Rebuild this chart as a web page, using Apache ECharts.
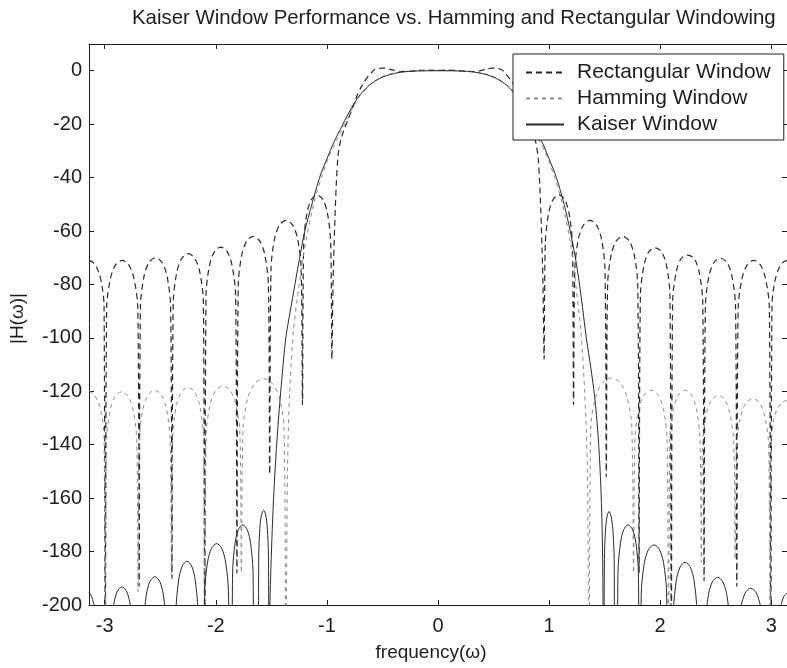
<!DOCTYPE html>
<html>
<head>
<meta charset="utf-8">
<script src="https://cdn.jsdelivr.net/npm/echarts@6/dist/echarts.min.js"></script>
<style>
  html, body { margin: 0; padding: 0; background: #fdfdfd; }
  #chart { width: 787px; height: 668px; }
</style>
</head>
<body>
<div id="chart"></div>
<script>
// Magnitude responses (dB) of the three windowed FIR low-pass designs.
// Values below -200 dB are nulls that fall off the bottom of the plot.

const xTicks = [-3, -2, -1, 0, 1, 2, 3];
const yTicks = [-200, -180, -160, -140, -120, -100, -80, -60, -40, -20, 0];

const rectFreq = [
  -3.1416, -3.100, -3.055, -3.025, -3.006, -2.995,
  -2.983, -2.949, -2.904, -2.843, -2.782, -2.736, -2.702, -2.690,
  -2.678, -2.646, -2.602, -2.543, -2.484, -2.439, -2.407, -2.395,
  -2.383, -2.351, -2.307, -2.248, -2.189, -2.144, -2.112, -2.100,
  -2.088, -2.057, -2.013, -1.955, -1.897, -1.854, -1.822, -1.810,
  -1.798, -1.766, -1.722, -1.663, -1.604, -1.559, -1.527, -1.515,
  -1.503, -1.471, -1.427, -1.368, -1.309, -1.264, -1.232, -1.220,
  -1.209, -1.180, -1.141, -1.088, -1.035, -0.995, -0.966, -0.955,
  -0.945, -0.930, -0.915, -0.900, -0.876, -0.845, -0.814, -0.770, -0.725, -0.680,
  -0.636, -0.600, -0.577, -0.530, -0.488, -0.440, -0.400, -0.330, -0.250, -0.170, -0.080,
  0,
  0.080, 0.170, 0.250, 0.330, 0.400, 0.440, 0.488, 0.530, 0.577, 0.600, 0.636,
  0.680, 0.725, 0.770, 0.814, 0.845, 0.876, 0.900, 0.915, 0.930, 0.945,
  0.955, 0.966, 0.995, 1.035, 1.088, 1.141, 1.180, 1.209,
  1.220, 1.232, 1.264, 1.309, 1.368, 1.427, 1.471, 1.503,
  1.515, 1.527, 1.559, 1.604, 1.663, 1.722, 1.766, 1.798,
  1.810, 1.822, 1.854, 1.897, 1.955, 2.013, 2.057, 2.088,
  2.100, 2.112, 2.144, 2.189, 2.248, 2.307, 2.351, 2.383,
  2.395, 2.407, 2.439, 2.484, 2.543, 2.602, 2.646, 2.678,
  2.690, 2.702, 2.736, 2.782, 2.843, 2.904, 2.949, 2.983,
  2.995, 3.006, 3.025, 3.055, 3.100, 3.1416
];
const rectMag = [
  -71, -71.9, -75.3, -80.4, -88, -240,
  -89, -77.9, -72.8, -71, -72.8, -77.9, -89, -193,
  -88, -76.9, -71.8, -70, -71.8, -76.9, -88, -190,
  -86.5, -75.4, -70.3, -68.5, -70.3, -75.4, -86.5, -240,
  -84, -72.9, -67.8, -66, -67.8, -72.9, -84, -188,
  -80, -68.9, -63.8, -62, -63.8, -68.9, -80, -151,
  -74, -62.9, -57.8, -56, -57.8, -62.9, -74, -125,
  -64.5, -53.4, -48.3, -46.5, -48.3, -53.4, -64.5, -108,
  -80, -58, -42, -32, -26, -22, -18.7, -14, -9, -5.2,
  -2.5, -0.8, 0.3, 0.9, 1.0, 0.6, 0.2, -0.3, -0.2, 0.1, 0.2,
  0.1,
  0.2, 0.1, -0.2, -0.3, 0.2, 0.6, 1.0, 0.9, 0.3, -0.8, -2.5,
  -5.2, -9, -14, -18.7, -22, -26, -32, -42, -58, -80,
  -108, -64.5, -53.4, -48.3, -46.5, -48.3, -53.4, -64.5,
  -125, -74, -62.9, -57.8, -56, -57.8, -62.9, -74,
  -152, -80, -68.9, -63.8, -62, -63.8, -68.9, -80,
  -188, -84, -72.9, -67.8, -66.3, -67.8, -72.9, -84,
  -240, -86.5, -75.4, -70.3, -69, -70.3, -75.4, -86.5,
  -191, -88, -76.9, -71.8, -70.2, -71.8, -76.9, -88,
  -193, -89, -77.9, -72.8, -71, -72.8, -77.9, -89,
  -240, -88, -80.4, -75.3, -71.9, -71
];

const hammingFreq = [
  -3.1416, -3.100, -3.055, -3.025, -3.006, -2.995,
  -2.983, -2.951, -2.907, -2.848, -2.789, -2.744, -2.712, -2.700,
  -2.688, -2.655, -2.610, -2.550, -2.490, -2.445, -2.412, -2.400,
  -2.388, -2.355, -2.310, -2.250, -2.190, -2.145, -2.112, -2.100,
  -2.087, -2.051, -2.001, -1.935, -1.869, -1.820, -1.783, -1.770,
  -1.754, -1.710, -1.650, -1.570, -1.490, -1.430, -1.386, -1.370,
  -1.355, -1.335, -1.300, -1.250, -1.190, -1.120, -1.050, -0.980, -0.900,
  -0.800, -0.720, -0.620, -0.520, -0.420, -0.300, -0.150,
  0,
  0.150, 0.300, 0.420, 0.520, 0.620, 0.720, 0.800,
  0.900, 0.980, 1.050, 1.120, 1.190, 1.240, 1.285, 1.320, 1.345,
  1.360, 1.376, 1.420, 1.480, 1.560, 1.640, 1.700, 1.744,
  1.760, 1.773, 1.807, 1.855, 1.918, 1.981, 2.028, 2.062,
  2.075, 2.087, 2.119, 2.164, 2.223, 2.282, 2.326, 2.358,
  2.370, 2.382, 2.416, 2.462, 2.523, 2.584, 2.629, 2.663,
  2.675, 2.688, 2.722, 2.770, 2.833, 2.896, 2.943, 2.977,
  2.990, 3.002, 3.020, 3.050, 3.100, 3.1416
];
const hammingMag = [
  -120, -121, -124.3, -129.4, -137, -230,
  -138.2, -127.1, -122, -120.2, -122, -127.1, -138.2, -195,
  -137.6, -126.5, -121.4, -119.6, -121.4, -126.5, -137.6, -186,
  -136.5, -125.4, -120.3, -118.5, -120.3, -125.4, -136.5, -230,
  -136, -124.9, -119.8, -118, -119.8, -124.9, -136, -188,
  -133.3, -122.2, -117.1, -115.3, -117.1, -122.2, -133.3, -230,
  -150, -120, -97, -80, -64, -50, -40, -32, -25,
  -16.5, -10.5, -5.5, -2.6, -1.1, -0.3, 0,
  0,
  0, -0.3, -1.1, -2.6, -5.5, -10.5, -16.5,
  -25, -32, -40, -50, -64, -80, -97, -120, -150,
  -230, -133, -121.9, -116.8, -115, -116.8, -121.9, -133,
  -188, -137.6, -126.5, -121.4, -119.6, -121.4, -126.5, -137.6,
  -230, -137.6, -126.5, -121.4, -119.6, -121.4, -126.5, -137.6,
  -184, -139.5, -128.4, -123.3, -121.5, -123.3, -128.4, -139.5,
  -183, -140.7, -129.6, -124.5, -122.7, -124.5, -129.6, -140.7,
  -230, -139, -131, -127, -124, -123.5
];

const kaiserFreq = [
  -3.1416, -3.118, -3.0865, -3.063, -3.055,
  -2.952, -2.943, -2.920, -2.888, -2.845, -2.802, -2.770, -2.747, -2.738,
  -2.659, -2.650, -2.626, -2.593, -2.549, -2.505, -2.472, -2.448, -2.439,
  -2.366, -2.358, -2.334, -2.302, -2.260, -2.218, -2.186, -2.162, -2.154,
  -2.109, -2.100, -2.074, -2.039, -1.993, -1.947, -1.912, -1.886, -1.877,
  -1.857, -1.849, -1.827, -1.797, -1.757, -1.717, -1.687, -1.665, -1.657,
  -1.618, -1.614, -1.604, -1.589, -1.570, -1.551, -1.536, -1.526, -1.522,
  -1.518, -1.513, -1.507, -1.495, -1.480, -1.460, -1.435, -1.405, -1.370, -1.330,
  -1.288, -1.245, -1.199, -1.135, -1.066, -1.000, -0.940, -0.880, -0.800, -0.720,
  -0.620, -0.520, -0.420, -0.300, -0.150,
  0,
  0.150, 0.300, 0.420, 0.520, 0.620, 0.720, 0.800, 0.880, 0.940, 1.000,
  1.066, 1.135, 1.190, 1.245, 1.290, 1.335, 1.375, 1.410, 1.440, 1.462, 1.478, 1.486, 1.490,
  1.494, 1.498, 1.508, 1.522, 1.540, 1.558, 1.574, 1.586, 1.592,
  1.612, 1.620, 1.642, 1.672, 1.712, 1.752, 1.782, 1.804, 1.812,
  1.820, 1.830, 1.857, 1.894, 1.944, 1.994, 2.031, 2.058, 2.068,
  2.111, 2.120, 2.145, 2.179, 2.225, 2.271, 2.305, 2.330, 2.339,
  2.397, 2.407, 2.433, 2.469, 2.517, 2.565, 2.601, 2.627, 2.637,
  2.690, 2.700, 2.728, 2.765, 2.815, 2.865, 2.903, 2.930, 2.940,
  3.040, 3.050, 3.080, 3.110, 3.1416
];
const kaiserMag = [
  -195.3, -196.8, -201.9, -213, -260,
  -260, -211.2, -200.1, -195, -193.2, -195, -200.1, -211.2, -260,
  -260, -207.4, -196.3, -191.2, -189.4, -191.2, -196.3, -207.4, -260,
  -260, -201.6, -190.5, -185.4, -183.6, -185.4, -190.5, -201.6, -260,
  -260, -195, -183.9, -178.8, -177, -178.8, -183.9, -195, -260,
  -260, -188, -176.9, -171.8, -170, -171.8, -176.9, -188, -260,
  -260, -182.5, -171.4, -166.3, -164.5, -166.3, -171.4, -182.5, -260,
  -260, -200, -190, -175, -160, -145, -130, -115, -100, -90,
  -80, -70, -60, -50, -40, -33, -27, -22, -15.5, -10,
  -5.5, -2.8, -1.3, -0.4, -0.05,
  0,
  -0.05, -0.4, -1.3, -2.8, -5.5, -10, -15.5, -22, -27, -33,
  -40, -50, -60, -72, -85, -100, -111, -122, -136, -152, -172, -200, -260,
  -260, -183, -171.9, -166.8, -165, -166.8, -171.9, -183, -260,
  -260, -188, -176.9, -171.8, -170, -171.8, -176.9, -188, -260,
  -260, -195.5, -184.4, -179.3, -177.5, -179.3, -184.4, -195.5, -260,
  -260, -202, -190.9, -185.8, -184, -185.8, -190.9, -202, -260,
  -260, -207.6, -196.5, -191.4, -189.6, -191.4, -196.5, -207.6, -260,
  -260, -211.7, -200.6, -195.5, -193.7, -195.5, -200.6, -211.7, -260,
  -260, -213, -202, -197, -195.5
];

const pairs = (xs, ys) => xs.map((x, i) => [x, ys[i]]);

const FONT = '"Liberation Sans", Arial, Helvetica, sans-serif';
const INK = '#1e1e1e';

const chart = echarts.init(document.getElementById('chart'), null, { renderer: 'canvas' });

const baseX = {
  type: 'value', min: -Math.PI, max: Math.PI,
  axisLine: { show: true, onZero: false, lineStyle: { color: INK, width: 1 } },
  axisTick: { show: true, inside: true, length: 5, customValues: xTicks, lineStyle: { color: INK } },
  splitLine: { show: false }
};
const baseY = {
  type: 'value', min: -200, max: 10,
  axisLine: { show: true, onZero: false, lineStyle: { color: INK, width: 1 } },
  axisTick: { show: true, inside: true, length: 5, customValues: yTicks, lineStyle: { color: INK } },
  splitLine: { show: false }
};

chart.setOption({
  animation: false,
  backgroundColor: '#fdfdfd',
  title: {
    text: 'Kaiser Window Performance vs. Hamming and Rectangular Windowing',
    left: 132, top: 8, padding: 0,
    textStyle: { fontFamily: FONT, fontSize: 20.4, fontWeight: 'normal', color: INK }
  },
  grid: { left: 89, top: 44, width: 706, height: 561, containLabel: false },
  legend: {
    orient: 'vertical', left: 513, top: 54,
    backgroundColor: '#ffffff', borderColor: INK, borderWidth: 1, borderRadius: 0,
    padding: [8, 13, 5, 12],
    itemWidth: 38, itemHeight: 14, itemGap: 5,
    itemStyle: { opacity: 0 },
    textStyle: { fontFamily: FONT, fontSize: 21, color: INK, padding: [0, 0, 0, 8] },
    data: ['Rectangular Window', 'Hamming Window', 'Kaiser Window']
  },
  xAxis: [
    Object.assign({}, baseX, {
      position: 'bottom',
      axisLabel: { customValues: xTicks, fontFamily: FONT, fontSize: 20, color: INK, margin: 11 },
      name: 'frequency(ω)', nameLocation: 'middle', nameGap: 38,
      nameTextStyle: { fontFamily: FONT, fontSize: 19, color: INK, padding: [0, 14, 0, 0] }
    }),
    Object.assign({}, baseX, { position: 'top', axisLabel: { show: false } })
  ],
  yAxis: [
    Object.assign({}, baseY, {
      position: 'left',
      axisLabel: { customValues: yTicks, fontFamily: FONT, fontSize: 20, color: INK, margin: 7 },
      name: '|H(ω)|', nameLocation: 'middle', nameGap: 62,
      nameTextStyle: { fontFamily: FONT, fontSize: 19, color: INK, padding: [0, 0, 0, 12] }
    }),
    Object.assign({}, baseY, { position: 'right', axisLabel: { show: false } })
  ],
  series: [
    {
      name: 'Rectangular Window', type: 'line', xAxisIndex: 0, yAxisIndex: 0,
      data: pairs(rectFreq, rectMag), showSymbol: false, symbol: 'none', smooth: 0.3,
      clip: true, z: 2,
      lineStyle: { color: '#2b2b2b', width: 1.2, type: [6, 4] },
      itemStyle: { color: '#2b2b2b' }
    },
    {
      name: 'Hamming Window', type: 'line', xAxisIndex: 0, yAxisIndex: 0,
      data: pairs(hammingFreq, hammingMag), showSymbol: false, symbol: 'none', smooth: 0.3,
      clip: true, z: 2,
      lineStyle: { color: '#8c8c8c', width: 1, type: [4, 4] },
      itemStyle: { color: '#8c8c8c' }
    },
    {
      name: 'Kaiser Window', type: 'line', xAxisIndex: 0, yAxisIndex: 0,
      data: pairs(kaiserFreq, kaiserMag), showSymbol: false, symbol: 'none', smooth: 0.3,
      clip: true, z: 3,
      lineStyle: { color: '#2b2b2b', width: 1, type: 'solid' },
      itemStyle: { color: '#2b2b2b' }
    }
  ]
});
</script>
</body>
</html>
